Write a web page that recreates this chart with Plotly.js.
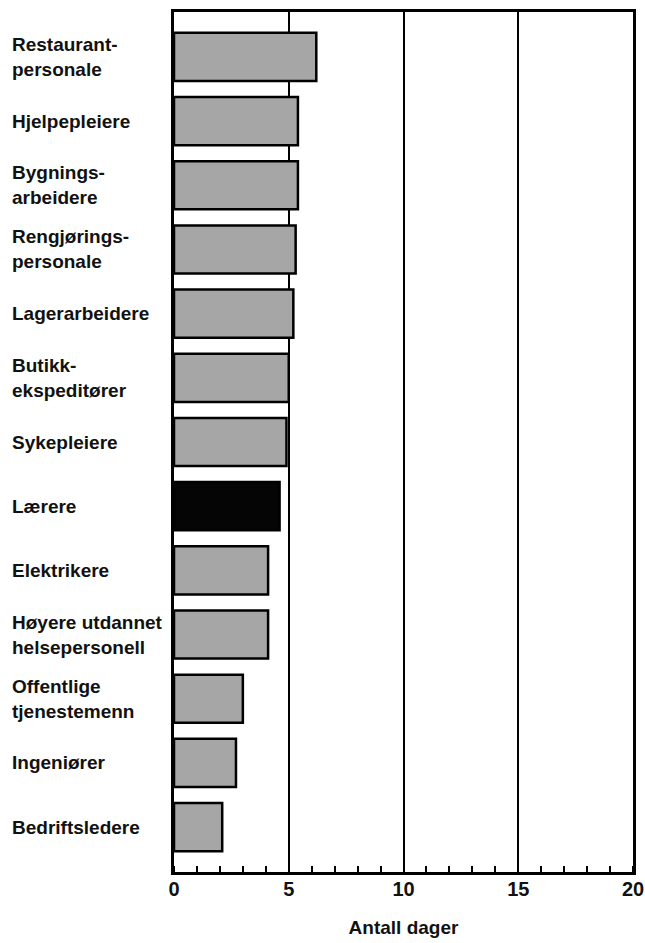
<!DOCTYPE html>
<html>
<head>
<meta charset="utf-8">
<script src="https://cdn.plot.ly/plotly-3.0.1.min.js"></script>
<style>html,body{margin:0;padding:0;background:#fff;}#chart{width:645px;height:943px;}</style>
</head>
<body>
<div id="chart"></div>
<script>
const categories = ["Restaurantpersonale","Hjelpepleiere","Bygningsarbeidere","Rengjøringspersonale","Lagerarbeidere","Butikkekspeditører","Sykepleiere","Lærere","Elektrikere","Høyere utdannet helsepersonell","Offentlige tjenestemenn","Ingeniører","Bedriftsledere"];
const labels = ["Restaurant-<br>personale","Hjelpepleiere","Bygnings-<br>arbeidere","Rengjørings-<br>personale","Lagerarbeidere","Butikk-<br>ekspeditører","Sykepleiere","Lærere","Elektrikere","Høyere utdannet<br>helsepersonell","Offentlige<br>tjenestemenn","Ingeniører","Bedriftsledere"];
const days = [6.2, 5.4, 5.4, 5.3, 5.2, 5.0, 4.9, 4.6, 4.1, 4.1, 3.0, 2.7, 2.1];
const highlight = "Lærere";
const xTicks = [0, 5, 10, 15, 20];

const FONT = "Liberation Sans, Arial, sans-serif";
const colors = categories.map(c => c === highlight ? "#050505" : "#a6a6a6");

const trace = {
  type: "bar",
  orientation: "h",
  y: categories,
  x: days,
  marker: {
    color: colors,
    line: {color: "#000", width: 2.5}
  },
  hoverinfo: "none"
};

const annotations = categories.map((c, i) => ({
  xref: "paper", yref: "y",
  x: -0.357, y: c,
  xanchor: "left", yanchor: "middle", align: "left",
  text: labels[i],
  showarrow: false,
  font: {family: FONT, size: 19, weight: "bold", color: "#111"}
}));

const layout = {
  width: 645, height: 943,
  margin: {l: 174, r: 12, t: 12, b: 71},
  paper_bgcolor: "#fff", plot_bgcolor: "#fff",
  bargap: 0.25,
  showlegend: false,
  font: {family: FONT, color: "#000"},
  xaxis: {
    range: [0, 20],
    tickmode: "array",
    tickvals: xTicks,
    ticktext: xTicks.map(String),
    ticks: "",
    ticklabeloverflow: "allow",
    ticklabelstandoff: -3,
    showgrid: true, gridcolor: "#000", gridwidth: 2,
    showline: true, linecolor: "#000", linewidth: 3, mirror: true,
    zeroline: false,
    minor: {dtick: 1, ticks: "inside", ticklen: 6, tickwidth: 2, tickcolor: "#000", showgrid: false},
    tickfont: {family: FONT, size: 20, weight: "bold", color: "#111"},
    title: {text: "Antall dager", font: {family: FONT, size: 19, weight: "bold", color: "#111"}, standoff: 22}
  },
  yaxis: {
    type: "category",
    range: [12.7, -0.7],
    showticklabels: false,
    ticks: "",
    showgrid: false,
    showline: true, linecolor: "#000", linewidth: 3, mirror: true,
    zeroline: false
  },
  annotations: annotations
};

Plotly.newPlot("chart", [trace], layout, {displayModeBar: false, staticPlot: true});
</script>
</body>
</html>
